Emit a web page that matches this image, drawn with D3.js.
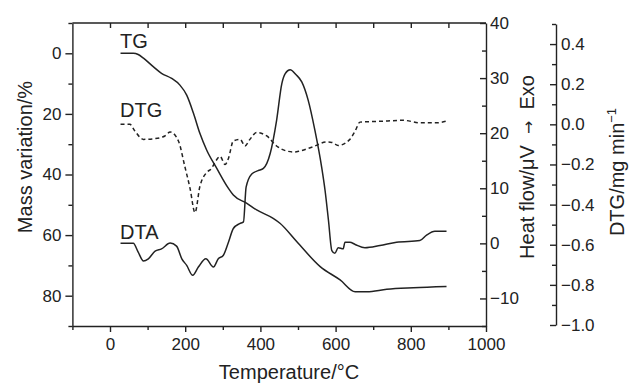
<!DOCTYPE html>
<html>
<head>
<meta charset="utf-8">
<script src="https://cdn.jsdelivr.net/npm/d3@7"></script>
<style>
  body { margin: 0; background: #fff; }
  svg { font-family: "Liberation Sans", Arial, Helvetica, sans-serif; }
  .axis path, .axis line { stroke: #222; stroke-width: 1.4; }
  .axis text { font-size: 17px; fill: #222; font-family: "Liberation Sans", Arial, sans-serif; }
  .title { font-size: 20px; fill: #222; }
  .curve { fill: none; stroke: #222; stroke-width: 1.5; }
</style>
</head>
<body>
<svg id="chart" width="630" height="385"></svg>
<script>
// temperature (°C), mass variation (%)
var tgTemp = [28, 62, 75, 89, 115, 137, 164, 186, 204, 222, 239, 257, 284, 315, 328, 364, 390, 434, 452, 497, 559, 612, 652, 683, 736, 807, 895];
var tgMass = [0, 0, 0.4, 1.6, 4.4, 6.6, 8.3, 10.5, 13.8, 19.8, 26.4, 31.9, 38, 44.6, 46.8, 49.5, 51.7, 54.5, 56.1, 62.2, 70.4, 74.8, 78.7, 78.7, 77.9, 77.4, 77.0];

// temperature (°C), heat flow (µV)
var dtaTemp = [28, 62, 75, 89, 102, 120, 137, 160, 177, 191, 204, 220, 235, 255, 275, 288, 301, 315, 328, 345, 355, 362, 377, 394, 408, 426, 443, 457, 466, 479, 495, 510, 527, 545, 563, 572, 581, 590, 598, 607, 620, 625, 638, 652, 678, 718, 762, 824, 842, 864, 895];
var dtaHeat = [0, 0, -1.6, -3.2, -2.8, -1.4, -1, 0.05, -0.5, -2.8, -4, -5.8, -4.3, -2.8, -4.3, -2.8, -2.2, 0.2, 2.7, 3.6, 3.9, 10.2, 12.6, 13.2, 13.6, 16.3, 22.3, 29, 30.8, 31.5, 30.6, 29.3, 26, 20.5, 13.8, 9.6, 4.2, -1.3, -1.8, -0.8, -1, 0.2, 0.2, -0.2, -0.8, -0.4, 0.2, 0.5, 1.5, 2.2, 2.2];

// temperature (°C), DTG (mg/min)
var dtgTemp = [28, 53, 66, 89, 120, 146, 160, 182, 199, 213, 226, 239, 257, 270, 279, 293, 306, 315, 328, 346, 359, 372, 390, 417, 443, 470, 490, 505, 541, 576, 590, 607, 638, 652, 665, 718, 780, 824, 869, 895];
var dtgRate = [0, 0, -0.033, -0.075, -0.071, -0.058, -0.038, -0.083, -0.21, -0.32, -0.44, -0.31, -0.24, -0.22, -0.19, -0.16, -0.2, -0.17, -0.083, -0.075, -0.108, -0.075, -0.041, -0.058, -0.108, -0.133, -0.138, -0.133, -0.111, -0.088, -0.09, -0.105, -0.075, -0.033, 0.011, 0.015, 0.02, 0.008, 0.008, 0.016];

var tempTicks = [0, 200, 400, 600, 800, 1000];
var massTicks = [0, 20, 40, 60, 80];
var heatTicks = [-10, 0, 10, 20, 30, 40];
var dtgTicks = [-1.0, -0.8, -0.6, -0.4, -0.2, 0.0, 0.2, 0.4];

var svg = d3.select("#chart");

var plotLeft = 72.4, plotRight = 486, plotTop = 23, plotBottom = 326;

var x = d3.scaleLinear().domain([-100, 1000]).range([plotLeft, plotRight]);
var yMass = d3.scaleLinear().domain([-10, 90]).range([plotTop, plotBottom]);
var yHeat = d3.scaleLinear().domain([-15, 40]).range([plotBottom, plotTop]);
var yDtg = d3.scaleLinear().domain([-1.0, 0.5]).range([325, 24]);

function zip(a, b) {
    return a.map(function (d, i) { return [d, b[i]]; });
}

// frame top line
svg.append("line")
    .attr("x1", plotLeft).attr("x2", plotRight)
    .attr("y1", plotTop).attr("y2", plotTop)
    .attr("stroke", "#222").attr("stroke-width", 1.4);

// bottom axis
svg.append("g").attr("class", "axis")
    .attr("transform", "translate(0," + plotBottom + ")")
    .call(d3.axisBottom(x).tickValues(tempTicks).tickSize(6).tickPadding(6).tickSizeOuter(0)
        .tickFormat(d3.format("d")));
svg.append("g").attr("class", "axis")
    .attr("transform", "translate(0," + plotBottom + ")")
    .call(d3.axisBottom(x).tickValues([-100, 100, 300, 500, 700, 900]).tickSize(4).tickFormat(""))
    .select(".domain").remove();

// top ticks (inward)
svg.append("g").attr("class", "axis")
    .attr("transform", "translate(0," + plotTop + ")")
    .call(d3.axisTop(x).tickValues(d3.range(0, 1000, 100)).tickSize(-5).tickFormat(""))
    .select(".domain").remove();

// left axis
svg.append("g").attr("class", "axis")
    .attr("transform", "translate(" + plotLeft + ",0)")
    .call(d3.axisLeft(yMass).tickValues(massTicks).tickSize(7).tickPadding(4).tickSizeOuter(0));
svg.append("g").attr("class", "axis")
    .attr("transform", "translate(" + plotLeft + ",0)")
    .call(d3.axisLeft(yMass).tickValues([-10, 10, 30, 50, 70, 90]).tickSize(4).tickFormat(""))
    .select(".domain").remove();

// heat flow axis (frame right)
svg.append("g").attr("class", "axis")
    .attr("transform", "translate(" + plotRight + ",0)")
    .call(d3.axisRight(yHeat).tickValues(heatTicks).tickSize(-6).tickPadding(4).tickSizeOuter(0)
        .tickFormat(d3.format("d")));
svg.append("g").attr("class", "axis")
    .attr("transform", "translate(" + plotRight + ",0)")
    .call(d3.axisRight(yHeat).tickValues([-15, -5, 5, 15, 25, 35]).tickSize(-4).tickFormat(""))
    .select(".domain").remove();

// DTG axis
var dtgX = 556;
svg.append("g").attr("class", "axis")
    .attr("transform", "translate(" + dtgX + ",0)")
    .call(d3.axisRight(yDtg).tickValues(dtgTicks).tickSize(-6).tickPadding(5).tickSizeOuter(0)
        .tickFormat(d3.format(".1f")));
svg.append("g").attr("class", "axis")
    .attr("transform", "translate(" + dtgX + ",0)")
    .call(d3.axisRight(yDtg).tickValues([-0.9, -0.7, -0.5, -0.3, -0.1, 0.1, 0.3, 0.5]).tickSize(-4).tickFormat(""))
    .select(".domain").remove();

// curves
var line = d3.line().curve(d3.curveMonotoneX);

svg.append("path").attr("class", "curve")
    .attr("d", line.x(function (d) { return x(d[0]); }).y(function (d) { return yMass(d[1]); })(zip(tgTemp, tgMass)));

svg.append("path").attr("class", "curve")
    .attr("d", line.x(function (d) { return x(d[0]); }).y(function (d) { return yHeat(d[1]); })(zip(dtaTemp, dtaHeat)));

svg.append("path").attr("class", "curve")
    .attr("stroke-dasharray", "4,3")
    .attr("d", line.x(function (d) { return x(d[0]); }).y(function (d) { return yDtg(d[1]); })(zip(dtgTemp, dtgRate)));

// curve labels
svg.append("text").attr("class", "title").attr("font-size", 18).attr("x", 120).attr("y", 48).text("TG");
svg.append("text").attr("class", "title").attr("font-size", 18).attr("x", 120).attr("y", 117).text("DTG");
svg.append("text").attr("class", "title").attr("font-size", 18).attr("x", 120).attr("y", 239).text("DTA");

// axis titles
svg.append("text").attr("class", "title")
    .attr("text-anchor", "middle")
    .attr("x", 289).attr("y", 379)
    .text("Temperature/°C");

svg.append("text").attr("class", "title")
    .attr("text-anchor", "middle")
    .attr("transform", "translate(32,157) rotate(-90)")
    .text("Mass variation/%");

var heatTitle = svg.append("text").attr("class", "title")
    .attr("text-anchor", "middle")
    .attr("transform", "translate(534,167) rotate(-90)");
heatTitle.append("tspan").text("Heat flow/μV\u00A0\u00A0");
heatTitle.append("tspan").attr("font-family", "DejaVu Sans").attr("font-size", 16).text("\u2192\uFE0E");
heatTitle.append("tspan").text("\u00A0\u00A0Exo");

var dtgTitle = svg.append("text").attr("class", "title")
    .attr("text-anchor", "middle")
    .attr("transform", "translate(624,172) rotate(-90)");
dtgTitle.append("tspan").text("DTG/mg min");
dtgTitle.append("tspan").attr("dy", -8).attr("font-size", 13).text("−1");
</script>
</body>
</html>
